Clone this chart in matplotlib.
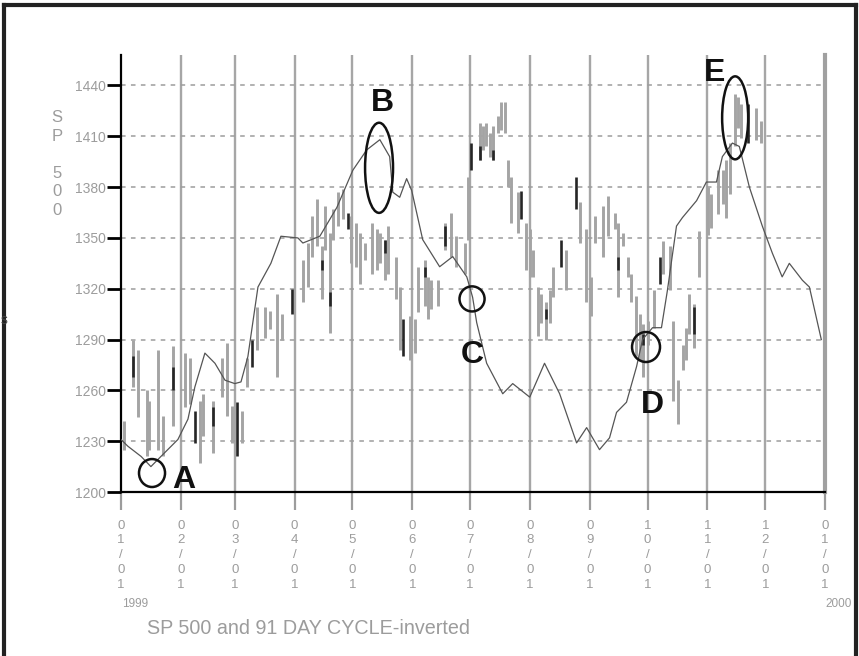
import numpy as np
import matplotlib
matplotlib.use("Agg")
import matplotlib.pyplot as plt
import matplotlib.dates as mdates
from matplotlib.lines import Line2D
from matplotlib.patches import Ellipse

plt.rcParams["font.family"] = ["Liberation Sans", "DejaVu Sans"]

START = np.datetime64("1999-01-01")
END = np.datetime64("2000-01-01")

# 91 day cycle (inverted): day offset from 1999-01-01, level
cycle_day = [0, 3.6, 10.4, 15.5, 20.7, 29.5, 34.7, 38.3, 43.5, 48.7, 53.9, 59, 62.2,
             65.8, 71, 77.7, 82.9, 91.7, 94.3, 103.1, 111.9, 120.2, 127.4, 134.2, 139.3,
             140.9, 144.5, 148.1, 150.7, 156.4, 165.2, 172, 179.3, 182.3, 184.4, 189.6,
             197.9, 203.1, 211.9, 219.6, 227.4, 236.2, 241.4, 248.1, 253.3, 256.9, 262.1,
             267.3, 270.4, 275.6, 280.2, 283.3, 288, 291.1, 298.4, 303.5, 308.7, 311.8,
             317, 320.6, 325.8, 332.5, 337.7, 342.8, 346.5, 353.3, 356.9, 363.1]
cycle_val = [1231, 1227, 1221, 1215, 1221, 1231, 1243, 1262, 1282, 1276, 1266, 1264, 1265,
             1280, 1321, 1335, 1351, 1350, 1347, 1351, 1368, 1390, 1402, 1408, 1398,
             1377, 1374, 1385, 1378, 1349, 1333, 1339, 1327, 1315, 1300, 1276,
             1258, 1264, 1256, 1276, 1258, 1229, 1238, 1225, 1232, 1247, 1253,
             1274, 1290, 1297, 1297, 1319, 1357, 1362, 1372, 1383, 1383, 1398,
             1406, 1404, 1380, 1357, 1341, 1327, 1335, 1325, 1321, 1290]

# SP 500 high-low bars (gray)
bar_day = [1.6, 6.2, 8.8, 13.5, 14.5, 19.2, 21.8, 26.9, 33.2, 35.7, 40.9, 42.5, 47.7,
           52.3, 54.9, 57.5, 62.7, 65.3, 70.5, 74.6, 77.2, 80.8, 83.4,
           94.4, 97, 98.8, 101.4, 104, 105.7, 108.3, 110, 112.6, 115.2, 119.5, 122.1,
           123.8, 126.4, 129.9, 132.5, 134.2, 136.8, 138.5, 142.8, 144.5, 149.7, 152.3,
           154, 157.5, 159.2, 160.9, 164.4, 167.8, 171.3, 173.9, 178.2,
           179.9, 186, 187.7, 189.4, 191.1, 192.9, 195.4, 197.2, 198.9, 200.6, 202.4,
           205.8, 210.2, 211.9, 213.6, 216.2, 217.9, 220.5, 222.2, 223.9, 230.9, 237.8,
           241.2, 243.8, 245.6, 249.8, 252.4, 255.9, 257.6, 260.2, 262.8, 264.5, 267.1,
           268.9, 270.6, 273.1, 276.6, 280.9, 284.4, 286.1, 288.7, 291.3, 293, 294.7,
           297.3, 299.9, 304.2, 306, 309.4, 312, 313.8, 315.5, 318.1, 319.8, 321.5,
           329.3, 331.9]
bar_low = [1225, 1262, 1244, 1221, 1225, 1225, 1221, 1239, 1250, 1252, 1217, 1233, 1223,
           1256, 1245, 1229, 1229, 1262, 1284, 1291, 1296, 1268, 1290,
           1312, 1321, 1339, 1345, 1314, 1343, 1294, 1349, 1357, 1361, 1335, 1333,
           1323, 1337, 1329, 1331, 1335, 1325, 1329, 1314, 1284, 1278, 1282,
           1306, 1310, 1302, 1308, 1310, 1343, 1339, 1333, 1329,
           1349, 1396, 1402, 1404, 1398, 1396, 1412, 1414, 1412, 1380, 1359,
           1353, 1331, 1327, 1327, 1292, 1300, 1290, 1300, 1315, 1319, 1347,
           1312, 1304, 1347, 1339, 1351, 1355, 1315, 1345, 1327, 1312, 1280,
           1278, 1268, 1287, 1297, 1329, 1319, 1254, 1240, 1272, 1278, 1293,
           1285, 1327, 1352, 1356, 1364, 1370, 1362, 1376, 1404, 1415, 1409,
           1408, 1406]
bar_high = [1242, 1290, 1284, 1260, 1254, 1284, 1245, 1286, 1282, 1279, 1254, 1258, 1254,
            1279, 1288, 1251, 1248, 1279, 1309, 1309, 1307, 1317, 1305,
            1337, 1347, 1363, 1373, 1345, 1369, 1353, 1367, 1377, 1379, 1363, 1359,
            1353, 1347, 1359, 1355, 1353, 1349, 1357, 1339, 1321, 1304, 1302,
            1333, 1337, 1327, 1325, 1325, 1359, 1365, 1351, 1347,
            1386, 1418, 1416, 1418, 1412, 1416, 1422, 1430, 1430, 1396, 1386,
            1377, 1359, 1355, 1343, 1321, 1317, 1312, 1319, 1333, 1343, 1371,
            1355, 1327, 1363, 1369, 1375, 1365, 1359, 1353, 1339, 1329, 1316,
            1305, 1299, 1301, 1319, 1348, 1345, 1301, 1266, 1287, 1297, 1317,
            1311, 1354, 1380, 1376, 1390, 1390, 1396, 1406, 1435, 1433, 1429,
            1427, 1419]

# darker bar segments
dark_day = [6.2, 26.9, 38.3, 47.7, 60.1, 67.9, 88.6, 104, 108.3, 117.7, 136.8, 146.2,
            157.5, 167.8, 181.7, 186, 192.9, 207.6, 220.5, 228.3, 236.1, 257.6, 270.6,
            279.2, 297.3, 325]
dark_low = [1268, 1260, 1229, 1239, 1221, 1274, 1305, 1331, 1310, 1355, 1341, 1280,
            1327, 1345, 1390, 1396, 1396, 1361, 1302, 1333, 1367, 1331, 1287,
            1323, 1293, 1406]
dark_high = [1280, 1274, 1248, 1250, 1253, 1290, 1320, 1337, 1318, 1365, 1349, 1302,
             1333, 1357, 1406, 1404, 1402, 1378, 1308, 1349, 1386, 1339, 1293,
             1339, 1309, 1429]

y_ticks = [1200, 1230, 1260, 1290, 1320, 1350, 1380, 1410, 1440]
month_labels = ["01/01", "02/01", "03/01", "04/01", "05/01", "06/01", "07/01",
                "08/01", "09/01", "10/01", "11/01", "12/01", "01/01"]

GRAY = "#9c9c9c"
W, H = 859, 656


def to_dates(days):
    return START + np.round(np.asarray(days) * 24).astype("timedelta64[h]")


def dnum(day):
    return mdates.date2num(to_dates([day]))[0]


fig = plt.figure(figsize=(W / 100, H / 100), dpi=100)
ax = fig.add_axes([121 / W, 1 - 492 / H, (825 - 121) / W, (492 - 55) / H])

months = np.arange("1999-01", "2000-02", dtype="datetime64[M]").astype("datetime64[D]")
for m in months[1:-1]:
    ax.axvline(m, color="#a6a6a6", lw=1.7, zorder=1)
ax.yaxis.grid(True, linestyle=(0, (3, 3.5)), color=GRAY, lw=1.1)

ax.vlines(to_dates(bar_day), bar_low, bar_high, color="#a4a4a4", lw=2.1, zorder=2)
ax.vlines(to_dates(dark_day), dark_low, dark_high, color="#262626", lw=1.9, zorder=3)
ax.plot(to_dates(cycle_day), cycle_val, color="#555555", lw=0.9, zorder=4)

# circled turning points A-E
marks = [("A", 16.1, 1211.2, 13.5, 16.5, 32.7, 1207),
         ("B", 133.8, 1391.4, 14.5, 53.2, 135.3, 1429.7),
         ("C", 182.0, 1314.0, 13.0, 14.8, 182.0, 1281),
         ("D", 272.2, 1285.6, 14.5, 17.7, 275.3, 1251.4),
         ("E", 318.4, 1420.9, 13.5, 49.0, 308.0, 1447.5)]
for name, cx, cy, w, h, tx, ty in marks:
    ax.add_patch(Ellipse((dnum(cx), cy), w, h, fill=False, ec="#111111", lw=1.8, zorder=5))
    ax.text(dnum(tx), ty, name, fontsize=23, fontweight="bold", ha="center",
            va="center", color="#111111", zorder=6)

ax.set_xlim(START, END)
ax.set_ylim(1200, 1458)
ax.set_yticks(y_ticks)
ax.set_xticks(months)
ax.set_xticklabels(["\n".join(s) for s in month_labels], linespacing=1.3)
ax.tick_params(axis="y", length=10, width=2, color="black", labelcolor=GRAY,
               labelsize=10, pad=1)
ax.tick_params(axis="x", length=13, width=1.6, color=GRAY, labelcolor=GRAY,
               labelsize=9.5, pad=7)
ax.xaxis.get_major_ticks()[0].tick1line.set_color("black")

ax.spines["top"].set_visible(False)
ax.spines["left"].set_linewidth(1.6)
ax.spines["bottom"].set_linewidth(1.6)
ax.spines["right"].set_color("#a0a0a0")
ax.spines["right"].set_linewidth(3)

fig.text(57 / W, 1 - 164 / H, "S\nP\n\n5\n0\n0", ha="center", va="center",
         fontsize=12, color=GRAY, linespacing=1.3)
fig.text(122 / W, 1 - 604 / H, "1999", fontsize=8.5, color=GRAY, va="center")
fig.text(825 / W, 1 - 604 / H, "2000", fontsize=8.5, color=GRAY, va="center")
fig.text(147 / W, 1 - 628 / H, "SP 500 and 91 DAY CYCLE-inverted", fontsize=14.2,
         color=GRAY, va="center")
fig.text(1 / W, 1 - 320 / H, "s", fontsize=10, color="#444444", ha="left", va="center")

# outer frame (left, top, right)
for xs, ys in [([4 / W, 4 / W], [0, 1 - 5 / H]),
               ([4 / W, 856 / W], [1 - 5 / H, 1 - 5 / H]),
               ([856 / W, 856 / W], [0, 1 - 5 / H])]:
    fig.add_artist(Line2D(xs, ys, color="#222222", lw=3))

fig.savefig("out.png", dpi=100)
